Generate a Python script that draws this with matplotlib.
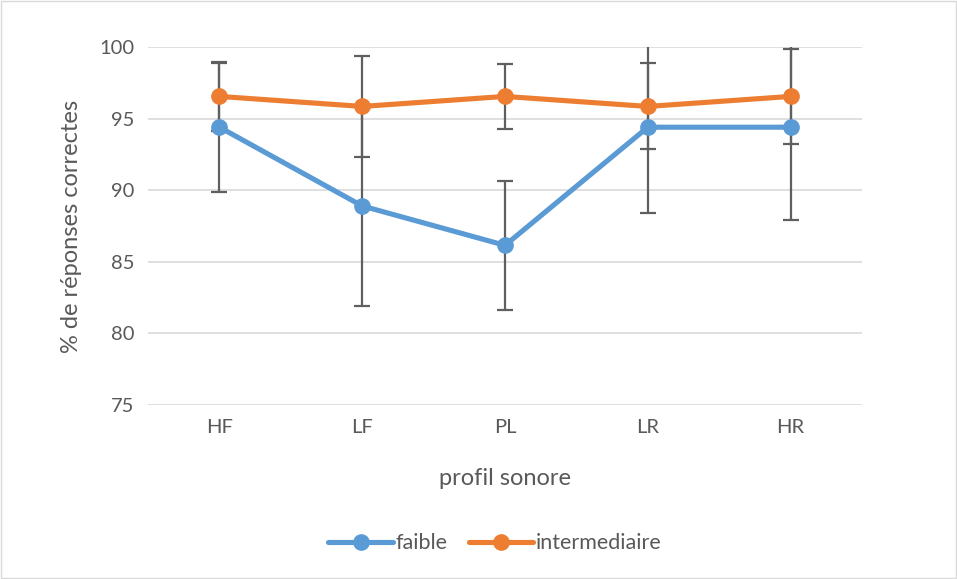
import matplotlib
matplotlib.use("Agg")
import matplotlib.pyplot as plt

categories = ["HF", "LF", "PL", "LR", "HR"]
faible = [94.4, 88.9, 86.15, 94.4, 94.4]
faible_err = [4.5, 7.0, 4.5, 6.0, 6.5]
intermediaire = [96.55, 95.85, 96.55, 95.85, 96.55]
intermediaire_err = [2.4, 3.5, 2.25, 3.0, 3.3]
yticks = [75, 80, 85, 90, 95, 100]

plt.rcParams['font.family'] = ['Lato', 'DejaVu Sans']
txt = '#595959'

fig = plt.figure(figsize=(9.57, 5.79), dpi=100)
ax = fig.add_axes([0.1547, 0.3005, 0.746, 0.6183])
x = list(range(len(categories)))

for vals, errs in ((faible, faible_err), (intermediaire, intermediaire_err)):
    ax.errorbar(x, vals, yerr=errs, fmt='none', ecolor='#5f5f5f', elinewidth=1.6,
                capsize=6, capthick=1.6, zorder=2)

ax.plot(x, faible, color='#5B9BD5', lw=3.7, marker='o', ms=11, label='faible',
        zorder=3, solid_capstyle='round')
ax.plot(x, intermediaire, color='#ED7D31', lw=3.7, marker='o', ms=11,
        label='intermediaire', zorder=4, solid_capstyle='round')

ax.set_xlim(-0.5, len(categories) - 0.5)
ax.set_ylim(75, 100)
ax.set_yticks(yticks)
ax.set_xticks(x)
ax.set_xticklabels(categories)
ax.grid(axis='y', color='#d9d9d9', lw=1.2)
ax.set_axisbelow(True)
for s in ax.spines.values():
    s.set_visible(False)
ax.tick_params(length=0, labelsize=14.5, colors=txt, pad=10)
ax.set_xlabel('profil sonore', fontsize=17, color=txt, labelpad=23)
ax.set_ylabel('% de réponses correctes', fontsize=17, color=txt, labelpad=12)

leg = fig.legend(loc='center', bbox_to_anchor=(0.517, 0.062), ncol=2, frameon=False,
                 fontsize=15.5, handlelength=3, handletextpad=0.1, columnspacing=1.0)
for t in leg.get_texts():
    t.set_color(txt)

fig.patches.append(plt.Rectangle((0.001, 0.001), 0.998, 0.998, transform=fig.transFigure,
                                 fill=False, edgecolor='#d9d9d9', lw=1))
fig.savefig('out.png', dpi=100)
